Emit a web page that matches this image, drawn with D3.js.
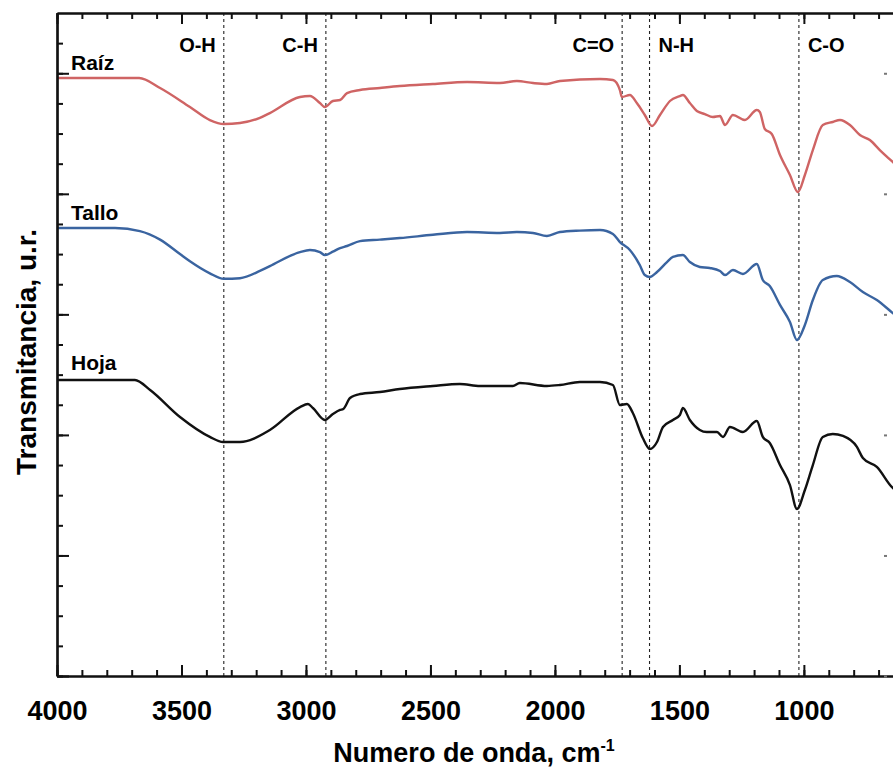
<!DOCTYPE html>
<html>
<head>
<meta charset="utf-8">
<script src="https://cdn.jsdelivr.net/npm/d3@7/dist/d3.min.js"></script>
<style>
  html, body { margin: 0; padding: 0; background: #fff; }
  svg { display: block; }
  text { font-family: "Liberation Sans", Arial, sans-serif; font-weight: bold; fill: #000; }
</style>
</head>
<body>
<svg id="chart" width="893" height="767"></svg>
<script>
// FTIR spectra: wavenumber (cm-1) vs transmittance (arbitrary, stacked)
const raiz = [
  [4000, 4.961], [3830, 4.961], [3670, 4.961], [3586, 4.878], [3466, 4.720],
  [3386, 4.612], [3330, 4.579], [3265, 4.587], [3185, 4.630], [3145, 4.670],
  [3024, 4.803], [2984, 4.811], [2944, 4.753], [2924, 4.720], [2892, 4.770],
  [2863, 4.778], [2835, 4.836], [2783, 4.861], [2703, 4.878], [2623, 4.894],
  [2490, 4.911], [2353, 4.927], [2221, 4.919], [2153, 4.936], [2088, 4.919],
  [2032, 4.911], [1980, 4.936], [1819, 4.952], [1767, 4.944], [1739, 4.861],
  [1731, 4.803], [1699, 4.820], [1671, 4.753], [1639, 4.654], [1610, 4.562],
  [1578, 4.654], [1538, 4.770], [1498, 4.811], [1486, 4.820], [1458, 4.753],
  [1430, 4.687], [1398, 4.662], [1366, 4.637], [1337, 4.645], [1317, 4.571],
  [1285, 4.654], [1237, 4.612], [1189, 4.695], [1177, 4.679], [1157, 4.538],
  [1129, 4.496], [1096, 4.322], [1056, 4.156], [1024, 4.015], [996, 4.156],
  [964, 4.363], [924, 4.571], [884, 4.596], [855, 4.612], [815, 4.571],
  [775, 4.488], [735, 4.446], [695, 4.363], [643, 4.264], [630, 4.240]
];
const tallo = [
  [4000, 3.716], [3767, 3.716], [3667, 3.691], [3586, 3.620], [3506, 3.500],
  [3466, 3.440], [3386, 3.340], [3330, 3.295], [3265, 3.300], [3185, 3.360],
  [3145, 3.400], [3024, 3.517], [2984, 3.534], [2944, 3.517], [2924, 3.492],
  [2892, 3.520], [2863, 3.550], [2835, 3.567], [2783, 3.608], [2703, 3.620],
  [2623, 3.633], [2490, 3.660], [2353, 3.683], [2221, 3.675], [2153, 3.683],
  [2088, 3.675], [2032, 3.650], [1980, 3.683], [1900, 3.695], [1819, 3.700],
  [1767, 3.667], [1739, 3.600], [1699, 3.534], [1659, 3.409], [1639, 3.326],
  [1619, 3.310], [1590, 3.351], [1550, 3.434], [1526, 3.476], [1486, 3.492],
  [1458, 3.434], [1418, 3.393], [1378, 3.385], [1337, 3.360], [1317, 3.326],
  [1285, 3.368], [1245, 3.335], [1189, 3.418], [1165, 3.285], [1137, 3.235],
  [1096, 3.078], [1056, 2.937], [1028, 2.787], [996, 2.912], [964, 3.119],
  [924, 3.285], [868, 3.318], [815, 3.268], [763, 3.185], [707, 3.119],
  [643, 3.011], [630, 2.990]
];
const hoja = [
  [4000, 2.455], [3687, 2.455], [3626, 2.372], [3506, 2.148], [3386, 1.983],
  [3333, 1.941], [3265, 1.941], [3145, 2.041], [3024, 2.231], [2992, 2.256],
  [2972, 2.223], [2924, 2.124], [2892, 2.173], [2863, 2.207], [2850, 2.215],
  [2823, 2.306], [2783, 2.339], [2703, 2.356], [2623, 2.381], [2490, 2.406],
  [2382, 2.422], [2301, 2.406], [2169, 2.406], [2141, 2.431], [2032, 2.406],
  [1980, 2.414], [1900, 2.439], [1819, 2.439], [1767, 2.414], [1739, 2.248],
  [1711, 2.256], [1687, 2.182], [1647, 1.974], [1619, 1.883], [1590, 1.941],
  [1566, 2.066], [1526, 2.124], [1498, 2.165], [1486, 2.223], [1458, 2.124],
  [1418, 2.041], [1390, 2.024], [1349, 2.024], [1325, 1.983], [1297, 2.066],
  [1245, 2.024], [1189, 2.115], [1165, 1.983], [1137, 1.933], [1096, 1.750],
  [1056, 1.584], [1028, 1.385], [996, 1.543], [964, 1.750], [924, 1.983],
  [884, 2.007], [843, 1.991], [787, 1.900], [763, 1.808], [707, 1.734],
  [643, 1.560], [630, 1.540]
];

const seriesNames = ["Raíz", "Tallo", "Hoja"];
const seriesColors = ["#cf6464", "#3a64a0", "#111111"];
const seriesLabelY = [5.03, 3.78, 2.54];   // label baselines, in transmittance units

// Band assignments: wavenumber of each marker line and its label
const bands = [3330, 2920, 1730, 1620, 1020];
const bandLabels = ["O-H", "C-H", "C=O", "N-H", "C-O"];
const bandSide = ["left", "left", "left", "right", "right"];

const xTicks = [4000, 3500, 3000, 2500, 2000, 1500, 1000];
const xDomain = [4000, 630];
const yDomain = [0, 5.5];

const svg = d3.select("#chart");
const plotLeft = 57, plotRight = 896, plotTop = 13, plotBottom = 676;

const x = d3.scaleLinear().domain(xDomain).range([plotLeft, plotRight]);
const y = d3.scaleLinear().domain(yDomain).range([plotBottom, plotTop]);

svg.append("defs").append("clipPath").attr("id", "plotclip")
  .append("rect").attr("x", plotLeft).attr("y", plotTop)
  .attr("width", plotRight - plotLeft).attr("height", plotBottom - plotTop);

// Band marker lines
svg.append("g").selectAll("line").data(bands).join("line")
  .attr("x1", d => x(d)).attr("x2", d => x(d))
  .attr("y1", plotTop).attr("y2", plotBottom)
  .attr("stroke", "#222").attr("stroke-width", 1.1)
  .attr("stroke-dasharray", "3,3");

svg.append("g").selectAll("text").data(bands).join("text")
  .attr("x", (d, i) => x(d) + (bandSide[i] === "left" ? -8 : 9))
  .attr("y", 52)
  .attr("text-anchor", (d, i) => bandSide[i] === "left" ? "end" : "start")
  .attr("font-size", 20)
  .text((d, i) => bandLabels[i]);

// Spectra
const line = d3.line()
  .x(d => x(d[0])).y(d => y(d[1]))
  .curve(d3.curveMonotoneX);

const plot = svg.append("g").attr("clip-path", "url(#plotclip)");
[raiz, tallo, hoja].forEach((s, i) => {
  plot.append("path").datum(s)
    .attr("fill", "none")
    .attr("stroke", seriesColors[i])
    .attr("stroke-width", 2.4)
    .attr("stroke-linejoin", "round")
    .attr("d", line);
});

svg.append("g").selectAll("text").data(seriesNames).join("text")
  .attr("x", 71)
  .attr("y", (d, i) => y(seriesLabelY[i]))
  .attr("font-size", 21)
  .text(d => d);

// Axes: ticks point inward
const minorX = d3.range(4000, 600, -100);
const minorY = d3.range(0, 5.5, 0.25);

function styleAxis(g) {
  g.selectAll(".domain").attr("stroke", "#111").attr("stroke-width", 2.2);
  g.selectAll(".tick line").attr("stroke", "#111").attr("stroke-width", 2);
}

// bottom
svg.append("g").attr("transform", `translate(0,${plotBottom})`)
  .call(d3.axisBottom(x).tickValues(minorX).tickSize(-6).tickFormat("").tickSizeOuter(0))
  .call(styleAxis);
svg.append("g").attr("transform", `translate(0,${plotBottom})`)
  .call(d3.axisBottom(x).tickValues(xTicks).tickSize(-11).tickSizeOuter(0).tickPadding(26).tickFormat(d3.format("d")))
  .call(styleAxis)
  .call(g => g.selectAll(".tick text")
    .attr("font-size", 27).attr("font-family", "Liberation Sans, Arial, sans-serif")
    .attr("font-weight", "bold").attr("fill", "#000").attr("dy", "0.68em"));
// top
svg.append("g").attr("transform", `translate(0,${plotTop})`)
  .call(d3.axisTop(x).tickValues(minorX).tickSize(-6).tickFormat("").tickSizeOuter(0))
  .call(styleAxis);
svg.append("g").attr("transform", `translate(0,${plotTop})`)
  .call(d3.axisTop(x).tickValues(xTicks).tickSize(-11).tickFormat("").tickSizeOuter(0))
  .call(styleAxis);
// left
svg.append("g").attr("transform", `translate(${plotLeft},0)`)
  .call(d3.axisLeft(y).tickValues(minorY).tickSize(-6).tickFormat("").tickSizeOuter(0))
  .call(styleAxis);
svg.append("g").attr("transform", `translate(${plotLeft},0)`)
  .call(d3.axisLeft(y).tickValues(d3.range(0, 6, 1)).tickSize(-12).tickFormat("").tickSizeOuter(0))
  .call(styleAxis);
// right edge: only the tips of the major ticks fall inside the frame
svg.append("g").attr("transform", `translate(887,0)`)
  .call(d3.axisRight(y).tickValues(d3.range(0, 6, 1)).tickSize(-3).tickFormat("").tickSizeOuter(0))
  .call(g => g.select(".domain").remove())
  .call(g => g.selectAll(".tick line").attr("stroke", "#777").attr("stroke-width", 2));

// Axis titles
const xt = svg.append("text")
  .attr("x", 474).attr("y", 762)
  .attr("text-anchor", "middle")
  .attr("font-size", 27);
xt.append("tspan").text("Numero de onda, cm");
xt.append("tspan").attr("font-size", 16).attr("dy", -11).text("-1");

svg.append("text")
  .attr("transform", "translate(36,352) rotate(-90)")
  .attr("text-anchor", "middle")
  .attr("font-size", 28)
  .text("Transmitancia, u.r.");
</script>
</body>
</html>
